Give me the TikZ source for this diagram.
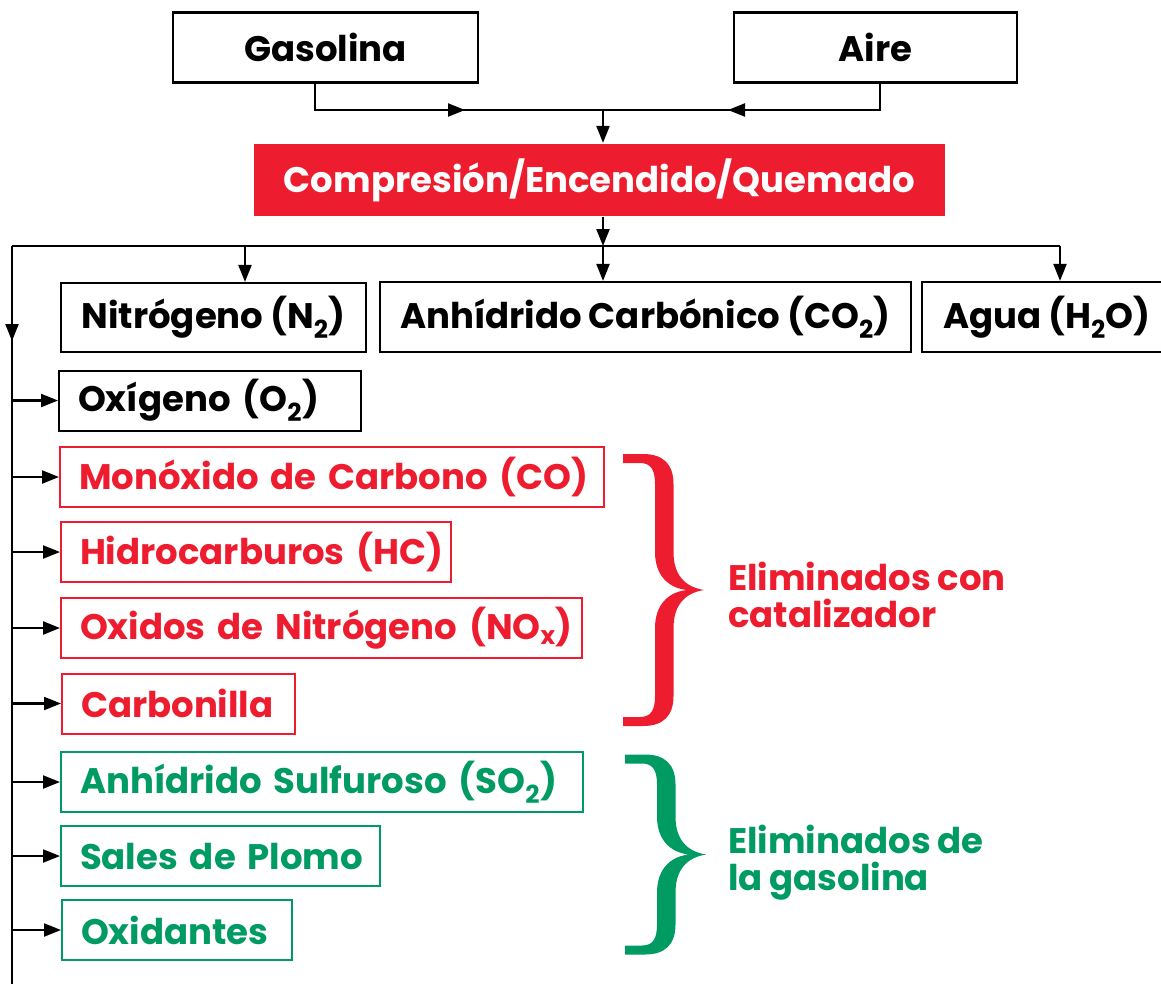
\documentclass[tikz,border=0pt]{standalone}
\usepackage{fontspec}
\setmainfont{Poppins}[WordSpace=0.9]
\usetikzlibrary{positioning, arrows.meta}
\definecolor{smogred}{RGB}{237,28,46}
\definecolor{smoggreen}{RGB}{0,154,99}
\newcommand{\bigtext}{\fontsize{35.5}{36.5}\selectfont\bfseries}
% curly brace as a filled shape: left x, tip y, half height, colour
\newcommand{\curlybrace}[4]{%
  \fill[#4, shift={(#1,#2)}]
    (0,#3) -- (20,#3) .. controls (40,#3) and (50.5,#3-10) .. (50.5,#3-30)
    -- (50.5,38) .. controls (50.5,15) and (62,3) .. (81,0)
    .. controls (62,-3) and (50.5,-15) .. (50.5,-38)
    -- (50.5,-#3+30) .. controls (50.5,-#3+10) and (40,-#3) .. (20,-#3)
    -- (0,-#3) -- (0,-#3+9) -- (17,-#3+9)
    .. controls (28,-#3+9) and (32,-#3+16) .. (32,-#3+30)
    -- (32,-38) .. controls (32,-15) and (45,-2) .. (64,0)
    .. controls (45,2) and (32,15) .. (32,38)
    -- (32,#3-30) .. controls (32,#3-16) and (28,#3-9) .. (17,#3-9)
    -- (0,#3-9) -- cycle;}

\begin{document}
\begin{tikzpicture}[
    x=1pt, y=-1pt,
    >={Triangle[length=17pt,width=13pt]},
    line width=2.2pt,
    box/.style={
        rectangle, draw=black, line width=2.2pt, fill=white,
        inner sep=0pt, minimum height=70pt, font=\bigtext
    },
    burn/.style={box, draw=none, fill=smogred, text=white, minimum height=72pt},
    % Items that leave the exhaust (text kept on one line, flush left)
    item/.style={
        rectangle, draw=black, line width=2pt, anchor=west,
        inner xsep=19pt, inner ysep=0pt, minimum height=60pt,
        align=left, font=\bigtext,
        execute at begin node=\hbox\bgroup, execute at end node=\egroup
    },
    redItem/.style={item, draw=smogred, text=smogred},
    greenItem/.style={item, draw=smoggreen, text=smoggreen},
    note/.style={align=left, inner sep=0pt, font=\bigtext}
]
    \useasboundingbox (0,0) rectangle (1161,983);

    % --- Inputs ---
    \node[box, minimum width=305pt] (gas) at (325.5,47.5) {Gasolina};
    \node[box, minimum width=283pt] (aire) at (875.5,47.5) {Aire};
    \node[burn, minimum width=691pt] (burn) at (599.5,180) {Compresión/Encendido/Quemado};

    % --- Main products ---
    \node[box, minimum width=305pt, minimum height=69pt] (nit) at (213.5,317.5) {Nitrógeno (N\textsubscript{2})};
    \node[box, minimum width=531pt] (co2) at (645.5,317) {Anhídrido Carbónico (CO\textsubscript{2})};
    \node[box, minimum width=250pt] (agua) at (1047,317) {Agua (H\textsubscript{2}O)};

    % --- Exhaust items ---
    \node[item, text width=264pt] (oxi) at (58,400.5) {Oxígeno (O\textsubscript{2})};
    \node[redItem, text width=506pt] (co) at (59,477) {Monóxido de Carbono (CO)};
    \node[redItem, text width=352pt] (hc) at (60,552) {Hidrocarburos (HC)};
    \node[redItem, text width=483pt] (nox) at (60,628) {Oxidos de Nitrógeno (NO\textsubscript{x})};
    \node[redItem, text width=195pt] (soot) at (61,703.5) {Carbonilla};
    \node[greenItem, text width=484pt] (so2) at (60,782) {Anhídrido Sulfuroso (SO\textsubscript{2})};
    \node[greenItem, text width=281pt] (lead) at (60,856) {Sales de Plomo};
    \node[greenItem, text width=192pt] (oxid) at (61,930) {Oxidantes};

    % --- Braces and their notes ---
    \curlybrace{623}{590}{136}{smogred}
    \curlybrace{625}{854.5}{100}{smoggreen}
    \coordinate (cattip) at (704,590);
    \coordinate (gastip) at (706,854.5);
    \node[note, text=smogred, right=23pt of cattip, yshift=-5pt] (cattext) {Eliminados con\\catalizador};
    \node[note, text=smoggreen, right=21pt of gastip, yshift=-8pt] (gastext) {Eliminados de\\la gasolina};

    % --- Connectors ---
    \coordinate (mix) at (603,110);
    \coordinate (gasmid) at (465,110);
    \coordinate (airemid) at (728,110);
    \draw ([xshift=-10.5pt]gas.south) |- (mix);
    \draw[->] ([xshift=-10.5pt]gas.south) |- (gasmid);
    \draw ([xshift=4.5pt]aire.south) |- (mix);
    \draw[->] ([xshift=4.5pt]aire.south) |- (airemid);
    \draw[->] (mix) -- (mix |- burn.north);

    \coordinate (split) at (603,246);
    \coordinate (busL) at (12,246);
    \coordinate (busN) at (245,246);
    \coordinate (busR) at (1060,246);
    \coordinate (spineArrow) at (12,341);
    \coordinate (spineEnd) at (12,990);
    \draw[->] (split |- burn.south) -- (split);
    \draw (busL) -- (busR);
    \draw[->] (split) -- (split |- co2.north);
    \draw[->] (busN) -- (busN |- nit.north);
    \draw[->] (busR) -- (busR |- agua.north);
    \draw (busL) -- (spineEnd);
    \draw[->] (busL) -- (spineArrow);

    \draw[->] (busL |- oxi.west) -- (oxi.west);
    \draw[->] (busL |- co.west) -- (co.west);
    \draw[->] (busL |- hc.west) -- (hc.west);
    \draw[->] (busL |- nox.west) -- (nox.west);
    \draw[->] (busL |- soot.west) -- (soot.west);
    \draw[->] (busL |- so2.west) -- (so2.west);
    \draw[->] (busL |- lead.west) -- (lead.west);
    \draw[->] (busL |- oxid.west) -- (oxid.west);

\end{tikzpicture}
\end{document}
